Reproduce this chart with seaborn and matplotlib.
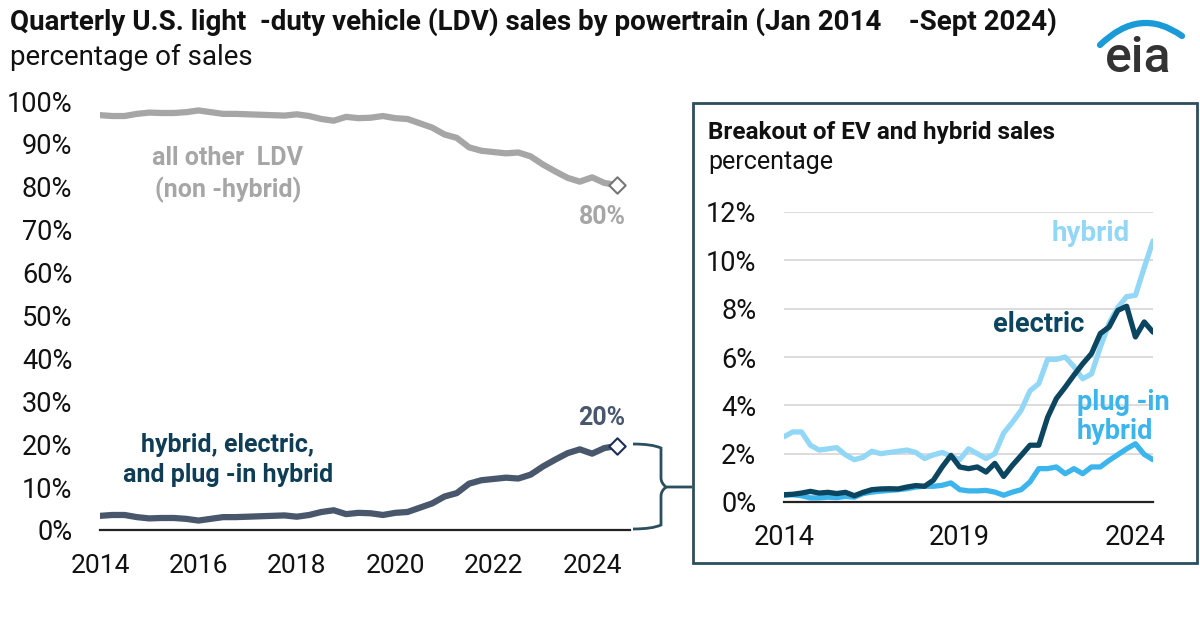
import numpy as np
import pandas as pd
import seaborn as sns
import matplotlib.pyplot as plt
from matplotlib.path import Path
from matplotlib.patches import PathPatch, Rectangle

# quarterly data, Q1 2014 - Q3 2024 (percent of LDV sales)
quarters = pd.period_range("2014Q1", "2024Q3", freq="Q")

hybrid = [2.70, 2.90, 2.90, 2.35, 2.15, 2.20, 2.25, 1.95, 1.75, 1.85, 2.10,
          2.00, 2.05, 2.10, 2.15, 2.05, 1.80, 1.95, 2.05, 1.90, 1.75, 2.20,
          2.00, 1.80, 2.00, 2.85, 3.30, 3.80, 4.60, 4.90, 5.90, 5.90, 6.00,
          5.60, 5.10, 5.30, 6.40, 7.40, 8.05, 8.50, 8.55, 9.70, 10.80]
electric = [0.30, 0.32, 0.37, 0.44, 0.37, 0.40, 0.35, 0.40, 0.26, 0.40, 0.51,
            0.54, 0.55, 0.54, 0.62, 0.68, 0.65, 0.90, 1.45, 1.93, 1.45, 1.38,
            1.45, 1.24, 1.60, 1.06, 1.52, 1.93, 2.35, 2.35, 3.50, 4.28, 4.75,
            5.25, 5.72, 6.14, 6.97, 7.24, 7.93, 8.10, 6.83, 7.45, 7.03]
plug_in = [0.28, 0.30, 0.26, 0.17, 0.17, 0.20, 0.18, 0.23, 0.20, 0.35, 0.41,
           0.45, 0.48, 0.51, 0.55, 0.62, 0.65, 0.65, 0.69, 0.79, 0.51, 0.46,
           0.46, 0.48, 0.41, 0.28, 0.41, 0.51, 0.83, 1.38, 1.38, 1.45, 1.17,
           1.38, 1.17, 1.45, 1.45, 1.72, 1.96, 2.20, 2.41, 1.97, 1.75]
combined = [3.3, 3.5, 3.5, 3.0, 2.7, 2.8, 2.8, 2.6, 2.2, 2.6, 3.0, 3.0, 3.1,
            3.2, 3.3, 3.4, 3.1, 3.5, 4.2, 4.6, 3.7, 4.0, 3.9, 3.5, 4.0, 4.2,
            5.2, 6.2, 7.8, 8.6, 10.8, 11.6, 11.9, 12.2, 12.0, 12.9, 14.8,
            16.4, 17.9, 18.8, 17.8, 19.1, 19.6]
all_other = [96.7, 96.5, 96.5, 97.0, 97.3, 97.2, 97.2, 97.4, 97.8, 97.4, 97.0,
             97.0, 96.9, 96.8, 96.7, 96.6, 96.9, 96.5, 95.8, 95.4, 96.3, 96.0,
             96.1, 96.5, 96.0, 95.8, 94.8, 93.8, 92.2, 91.4, 89.2, 88.4, 88.1,
             87.8, 88.0, 87.1, 85.2, 83.6, 82.1, 81.2, 82.2, 80.9, 80.4]

GREY = "#a6a6a6"
SLATE = "#48576b"
TEAL_TXT = "#0f3d56"
LIGHT = "#93d7f7"
DARK = "#0b4560"
MID = "#3bb5ec"
BOX = "#2b4f5f"

W, H = 1200, 617


def fx(px):
    return px / W


def fy(py):
    return 1 - py / H


sns.set_style("white")
plt.rcParams["font.family"] = ["Roboto", "DejaVu Sans"]

fig = plt.figure(figsize=(12, 6.17), dpi=100)

t = quarters.year + (quarters.quarter - 1) / 4
n = len(t)

# ---- main chart
main_df = pd.DataFrame({
    "date": np.concatenate([t, t]),
    "value": all_other + combined,
    "series": ["other"] * n + ["combined"] * n,
})
ax = fig.add_axes([fx(100), fy(530), fx(630) - fx(100), fy(101) - fy(530)])
sns.lineplot(data=main_df, x="date", y="value", hue="series",
             palette={"other": GREY, "combined": SLATE}, linewidth=4.5,
             legend=False, ax=ax, solid_capstyle="round")
ax.scatter([t[-1]], [all_other[-1]], marker="D", s=70, facecolor="white",
           edgecolor="#777777", linewidth=1.5, zorder=5)
ax.scatter([t[-1]], [combined[-1]], marker="D", s=70, facecolor="white",
           edgecolor="#1c2f5a", linewidth=1.5, zorder=5)
ax.set_xlim(2014, 2024.77)
ax.set_ylim(0, 100)
years = list(range(2014, 2025))
ax.set_xticks(years)
ax.set_xticklabels([str(y) if y % 2 == 0 else "" for y in years])
ax.set_yticks(range(0, 101, 10))
ax.set_yticklabels([f"{v}%" for v in range(0, 101, 10)])
ax.tick_params(axis="x", length=8, width=1.5, color="#222222", pad=9,
               labelsize=19, labelcolor="#111111")
ax.tick_params(axis="y", length=0, pad=20, labelsize=19.5, labelcolor="#111111")
ax.set_xlabel("")
ax.set_ylabel("")
for s in ["top", "right", "left"]:
    ax.spines[s].set_visible(False)
ax.spines["bottom"].set_color("#222222")
ax.spines["bottom"].set_linewidth(1.6)

ax.text(2016.6, 89.5, "all other  LDV\n(non -hybrid)", ha="center", va="top",
        color=GREY, fontsize=18, fontweight="bold", linespacing=1.3)
ax.text(t[-1] - 0.3, 73.0, "80%", ha="center", va="center", color=GREY,
        fontsize=18, fontweight="bold")
ax.text(t[-1] - 0.3, 26.0, "20%", ha="center", va="center", color=SLATE,
        fontsize=18, fontweight="bold")
ax.text(2016.6, 22.5, "hybrid, electric,\nand plug -in hybrid", ha="center",
        va="top", color=TEAL_TXT, fontsize=18, fontweight="bold",
        linespacing=1.3)

# ---- bracket linking to inset
bx = [633, 652, 661, 661, 661, 661, 666, 692, 666, 661, 661, 661, 661, 652, 633]
by = [444, 444, 448, 458, 478, 483, 487, 487, 487, 491, 496, 516, 525, 529, 529]
codes = [Path.MOVETO, Path.CURVE3, Path.CURVE3, Path.LINETO, Path.LINETO,
         Path.CURVE3, Path.CURVE3, Path.LINETO, Path.MOVETO, Path.CURVE3,
         Path.CURVE3, Path.LINETO, Path.LINETO, Path.CURVE3, Path.CURVE3]
fig.patches.append(PathPatch(Path(list(zip([fx(v) for v in bx], [fy(v) for v in by])), codes),
                             transform=fig.transFigure, fill=False,
                             edgecolor=BOX, linewidth=2))

# ---- inset box
fig.patches.append(Rectangle((fx(693), fy(563)), fx(1197) - fx(693),
                             fy(103) - fy(563), transform=fig.transFigure,
                             fill=False, edgecolor=BOX, linewidth=2))
fig.text(fx(708), fy(133), "Breakout of EV and hybrid sales", ha="left",
         va="center", fontsize=17.5, fontweight="bold", color="#111111")
fig.text(fx(708), fy(162), "percentage", ha="left", va="center",
         fontsize=18, color="#111111")

inset_df = pd.DataFrame({
    "date": np.concatenate([t, t, t]),
    "value": hybrid + plug_in + electric,
    "series": ["hybrid"] * n + ["plug-in"] * n + ["electric"] * n,
})
ax2 = fig.add_axes([fx(784), fy(502), fx(1153) - fx(784), fy(212) - fy(502)])
ax2.set_axisbelow(True)
ax2.yaxis.grid(True, color="#d9d9d9", linewidth=1.3)
sns.lineplot(data=inset_df, x="date", y="value", hue="series",
             palette={"hybrid": LIGHT, "plug-in": MID, "electric": DARK},
             linewidth=3.8, legend=False, ax=ax2, solid_capstyle="round")
ax2.set_xlim(2014, 2024.5)
ax2.set_ylim(0, 12)
ax2.set_xticks([2014, 2019, 2024])
ax2.set_xticklabels(["2014", "2019", "2024"])
ax2.set_yticks(range(0, 13, 2))
ax2.set_yticklabels([f"{v}%" for v in range(0, 13, 2)])
ax2.tick_params(axis="x", length=8, width=1.5, color="#222222", pad=8,
                labelsize=19.5, labelcolor="#111111")
ax2.tick_params(axis="y", length=0, pad=20, labelsize=19.5, labelcolor="#111111")
ax2.set_xlabel("")
ax2.set_ylabel("")
for s in ["top", "right", "left"]:
    ax2.spines[s].set_visible(False)
ax2.spines["bottom"].set_color("#222222")
ax2.spines["bottom"].set_linewidth(1.6)

fig.text(fx(1091), fy(233), "hybrid", ha="center", va="center", color=LIGHT,
         fontsize=20, fontweight="bold")
fig.text(fx(1039), fy(325), "electric", ha="center", va="center", color=DARK,
         fontsize=19.5, fontweight="bold")
fig.text(fx(1077), fy(417), "plug -in\nhybrid", ha="left", va="center",
         color=MID, fontsize=19.5, fontweight="bold", linespacing=1.08)

# ---- header
fig.text(fx(10), fy(22), "Quarterly U.S. light  -duty vehicle (LDV) sales by powertrain (Jan 2014    -Sept 2024)",
         ha="left", va="center", fontsize=20, fontweight="bold", color="#111111")
fig.text(fx(10), fy(57), "percentage of sales", ha="left", va="center",
         fontsize=20, color="#111111")

# eia logo
arc_x = [1100, 1140, 1182]
arc_y = [45, 6, 36]
fig.patches.append(PathPatch(Path(list(zip([fx(v) for v in arc_x], [fy(v) for v in arc_y])),
                                  [Path.MOVETO, Path.CURVE3, Path.CURVE3]),
                             transform=fig.transFigure, fill=False,
                             edgecolor="#1a9ad6", linewidth=4.5, capstyle="round"))
fig.text(fx(1138), fy(58), "eia", ha="center", va="center", fontsize=36,
         fontweight="medium", color="#333333")

fig.savefig("out.png", dpi=100)
